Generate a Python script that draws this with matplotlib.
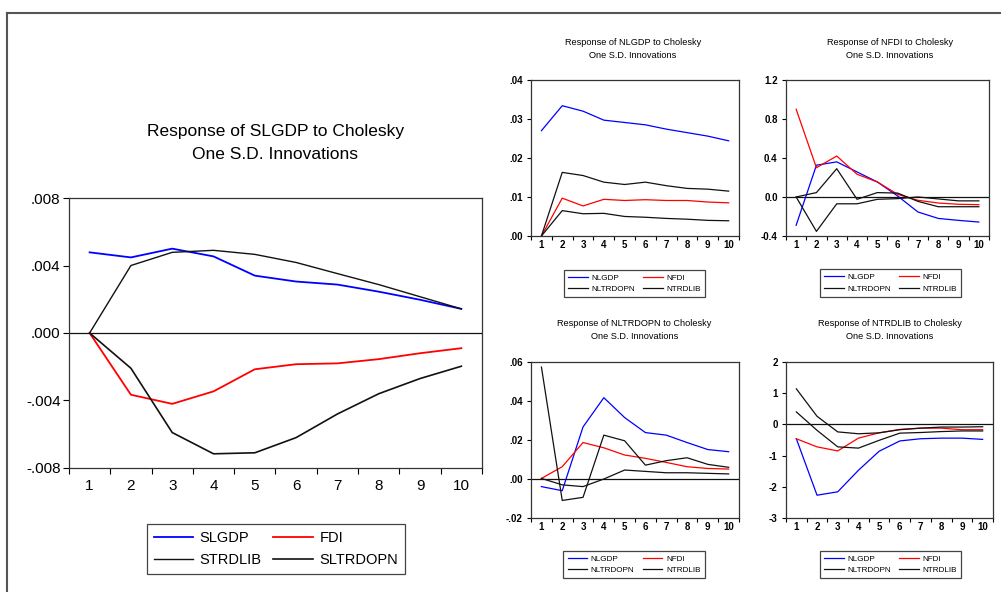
import numpy as np
import matplotlib

matplotlib.use('Agg')
import matplotlib.pyplot as plt
from matplotlib.lines import Line2D
from matplotlib.ticker import FixedLocator, FuncFormatter

PERIODS = list(range(1, 11))

# Response of SLGDP
SLGDP_SLGDP = [0.00478, 0.00448, 0.0050, 0.00454, 0.0034, 0.00305, 0.00287, 0.00245, 0.00197, 0.00143]
SLGDP_FDI = [0.0, -0.00366, -0.0042, -0.00346, -0.00215, -0.00185, -0.0018, -0.00155, -0.0012, -0.0009]
SLGDP_STRDLIB = [0.0, 0.0040, 0.00478, 0.0049, 0.00466, 0.00418, 0.00352, 0.00287, 0.00215, 0.00143]
SLGDP_SLTRDOPN = [0.0, -0.00209, -0.0059, -0.00716, -0.0071, -0.0062, -0.0048, -0.0036, -0.0027, -0.00197]

# Response of NLGDP
NLGDP_NLGDP = [0.027, 0.0334, 0.0320, 0.0297, 0.0291, 0.0285, 0.0274, 0.0265, 0.0256, 0.0244]
NLGDP_NFDI = [0.0, 0.0097, 0.0077, 0.0094, 0.0091, 0.0093, 0.0091, 0.0091, 0.0087, 0.0085]
NLGDP_NLTRDOPN = [0.0, 0.0163, 0.0155, 0.0138, 0.0132, 0.0138, 0.0129, 0.0122, 0.0120, 0.0115]
NLGDP_NTRDLIB = [0.0, 0.0065, 0.0057, 0.0058, 0.0050, 0.0048, 0.0045, 0.0043, 0.0040, 0.0039]

# Response of NFDI
NFDI_NLGDP = [-0.29, 0.326, 0.36, 0.257, 0.154, 0.01, -0.154, -0.22, -0.24, -0.257]
NFDI_NFDI = [0.90, 0.30, 0.42, 0.233, 0.154, 0.027, -0.034, -0.062, -0.075, -0.079]
NFDI_NLTRDOPN = [0.0, 0.045, 0.29, -0.024, 0.045, 0.04, -0.045, -0.10, -0.10, -0.10]
NFDI_NTRDLIB = [0.0, -0.353, -0.07, -0.07, -0.024, -0.017, 0.0, -0.02, -0.04, -0.04]

# Response of NLTRDOPN
NLTRDOPN_NLGDP = [-0.0039, -0.006, 0.0267, 0.0417, 0.0315, 0.0238, 0.0225, 0.0187, 0.0151, 0.014]
NLTRDOPN_NFDI = [0.0003, 0.0063, 0.0187, 0.016, 0.0123, 0.0106, 0.0085, 0.0063, 0.0054, 0.0051]
NLTRDOPN_NLTRDOPN = [0.0574, -0.011, -0.0094, 0.0225, 0.0196, 0.0071, 0.0094, 0.0109, 0.0075, 0.006]
NLTRDOPN_NTRDLIB = [0.0003, -0.003, -0.0039, 0.0, 0.0046, 0.0039, 0.0032, 0.0032, 0.0029, 0.0026]

# Response of NTRDLIB
NTRDLIB_NLGDP = [-0.46, -2.27, -2.16, -1.47, -0.86, -0.53, -0.46, -0.44, -0.44, -0.48]
NTRDLIB_NFDI = [-0.46, -0.72, -0.85, -0.44, -0.27, -0.16, -0.12, -0.12, -0.17, -0.17]
NTRDLIB_NLTRDOPN = [1.14, 0.26, -0.24, -0.30, -0.27, -0.17, -0.12, -0.085, -0.085, -0.075]
NTRDLIB_NTRDLIB = [0.40, -0.19, -0.72, -0.76, -0.51, -0.28, -0.26, -0.23, -0.21, -0.21]

BIG_LABELS = ['SLGDP', 'FDI', 'STRDLIB', 'SLTRDOPN']
SMALL_LABELS = ['NLGDP', 'NFDI', 'NLTRDOPN', 'NTRDLIB']

BLUE = '#0000ff'
RED = '#ff0000'
BLACK = '#111111'

SANS = ['Liberation Sans', 'DejaVu Sans']
plt.rcParams['font.family'] = SANS


def dot_fmt(decimals):
    def f(v, pos):
        s = f"{v:.{decimals}f}"
        if s.startswith('-0'):
            s = '-' + s[2:]
        elif s.startswith('0'):
            s = s[1:]
        return s
    return FuncFormatter(f)


def style_axes(ax, ylim, yticks, fmt, fs, zero_line=True):
    ax.set_xlim(0.5, 10.5)
    ax.set_ylim(*ylim)
    ax.xaxis.set_major_locator(FixedLocator(PERIODS))
    ax.xaxis.set_minor_locator(FixedLocator(np.arange(0.5, 11, 1)))
    ax.tick_params(axis='x', which='major', length=0, pad=6, labelsize=fs)
    ax.tick_params(axis='x', which='minor', length=4, direction='out', width=0.8)
    ax.yaxis.set_major_locator(FixedLocator(yticks))
    ax.yaxis.set_major_formatter(fmt)
    ax.tick_params(axis='y', which='major', length=4, direction='out', width=0.8, labelsize=fs, pad=2)
    for sp in ax.spines.values():
        sp.set_linewidth(0.9)
        sp.set_color('#333333')
    if zero_line:
        ax.axhline(0, color=BLACK, lw=0.9, zorder=1)


def add_legend(ax, handles, labels, cx, cy, fs, hl, colsp, lsp):
    # legend fills row by row: reorder for matplotlib's column filling
    order = [0, 2, 1, 3]
    leg = ax.figure.legend([handles[i] for i in order], [labels[i] for i in order],
                           loc='center', bbox_to_anchor=(cx, cy),
                           bbox_transform=ax.figure.transFigure, ncol=2,
                           fancybox=False, edgecolor='#444444', framealpha=1,
                           handlelength=hl, columnspacing=colsp, handletextpad=0.45,
                           labelspacing=lsp, borderpad=0.5,
                           prop={'size': fs})
    leg.get_frame().set_linewidth(0.9)
    return leg


fig = plt.figure(figsize=(10.01, 5.92), dpi=100)
fig.patch.set_facecolor('white')

# outer frame
fig.add_artist(Line2D([7 / 1001, 1.0], [1 - 13 / 592, 1 - 13 / 592], color='#555555', lw=1.5))
fig.add_artist(Line2D([7 / 1001, 7 / 1001], [0.0, 1 - 13 / 592], color='#555555', lw=1.5))

# big panel
ax = fig.add_axes([0.0689, 0.2095, 0.4126, 0.456])
l1, = ax.plot(PERIODS, SLGDP_SLGDP, color=BLUE, lw=1.3)
l2, = ax.plot(PERIODS, SLGDP_FDI, color=RED, lw=1.3)
l3, = ax.plot(PERIODS, SLGDP_STRDLIB, color=BLACK, lw=1.0)
l4, = ax.plot(PERIODS, SLGDP_SLTRDOPN, color=BLACK, lw=1.2)
style_axes(ax, (-0.008, 0.008), [-0.008, -0.004, 0.0, 0.004, 0.008], dot_fmt(3), 11)
ax.tick_params(axis='x', which='major', pad=8)
fig.text(0.2752, 0.7584, "Response of SLGDP to Cholesky\nOne S.D. Innovations",
         ha='center', va='center', fontsize=12.5, linespacing=1.7)
add_legend(ax, [l1, l2, l3, l4], BIG_LABELS, 0.2757, 0.0726, 10.5, 2.7, 0.8, 0.5)

small = [
    ("Response of NLGDP to Cholesky", [0.5305, 0.6014, 0.2078, 0.2635], (0.0, 0.04),
     [0.0, 0.01, 0.02, 0.03, 0.04], dot_fmt(2),
     [NLGDP_NLGDP, NLGDP_NFDI, NLGDP_NLTRDOPN, NLGDP_NTRDLIB], (0.6324, 0.9172), (0.6339, 0.5211), False),
    ("Response of NFDI to Cholesky", [0.7852, 0.6014, 0.2028, 0.2635], (-0.4, 1.2),
     [-0.4, 0.0, 0.4, 0.8, 1.2], FuncFormatter(lambda v, p: f"{v:.1f}"),
     [NFDI_NLGDP, NFDI_NFDI, NFDI_NLTRDOPN, NFDI_NTRDLIB], (0.889, 0.9172), (0.8896, 0.522), True),
    ("Response of NLTRDOPN to Cholesky", [0.5305, 0.125, 0.2078, 0.2635], (-0.02, 0.06),
     [-0.02, 0.0, 0.02, 0.04, 0.06], dot_fmt(2),
     [NLTRDOPN_NLGDP, NLTRDOPN_NFDI, NLTRDOPN_NLTRDOPN, NLTRDOPN_NTRDLIB], (0.634, 0.4426), (0.6334, 0.0465), True),
    ("Response of NTRDLIB to Cholesky", [0.7852, 0.125, 0.2068, 0.2635], (-3, 2),
     [-3, -2, -1, 0, 1, 2], FuncFormatter(lambda v, p: f"{v:.0f}"),
     [NTRDLIB_NLGDP, NTRDLIB_NFDI, NTRDLIB_NLTRDOPN, NTRDLIB_NTRDLIB], (0.889, 0.4426), (0.8896, 0.0465), True),
]

for title, rect, ylim, yticks, fmt, series, tpos, lpos, zero in small:
    a = fig.add_axes(rect)
    colors = [BLUE, RED, BLACK, BLACK]
    hs = []
    for s, c in zip(series, colors):
        h, = a.plot(PERIODS, s, color=c, lw=0.9)
        hs.append(h)
    style_axes(a, ylim, yticks, fmt, 7, zero_line=zero)
    a.tick_params(axis='both', which='major', pad=3)
    a.tick_params(axis='x', which='minor', length=3)
    a.tick_params(axis='y', which='major', length=3)
    for lab in a.get_xticklabels() + a.get_yticklabels():
        lab.set_fontweight('bold')
    fig.text(tpos[0], tpos[1], title + "\nOne S.D. Innovations", ha='center', va='center',
             fontsize=6.6, linespacing=1.65)
    add_legend(a, hs, SMALL_LABELS, lpos[0], lpos[1], 5.9, 2.4, 1.0, 0.45)

fig.savefig('out.png', dpi=100)
